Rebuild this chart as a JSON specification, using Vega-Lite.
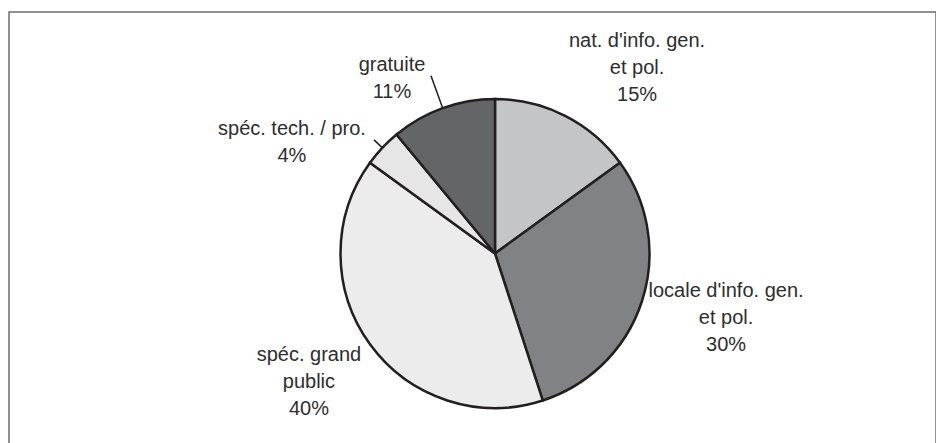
{
  "$schema": "https://vega.github.io/schema/vega-lite/v6.json",
  "width": 927,
  "height": 483,
  "autosize": "none",
  "padding": {"left": 9, "top": 12, "right": 0, "bottom": 0},
  "background": "white",
  "config": {"view": {"stroke": null}},
  "data": {
    "values": [
      {"id": 1, "cat": "nat. d'info. gen. et pol.", "label": "nat. d'info. gen.\net pol.\n15%", "value": 15},
      {"id": 2, "cat": "locale d'info. gen. et pol.", "label": "locale d'info. gen.\net pol.\n30%", "value": 30},
      {"id": 3, "cat": "spéc. grand public", "label": "spéc. grand\npublic\n40%", "value": 40},
      {"id": 4, "cat": "spéc. tech. / pro.", "label": "spéc. tech. / pro.\n4%", "value": 4},
      {"id": 5, "cat": "gratuite", "label": "gratuite\n11%", "value": 11}
    ]
  },
  "layer": [
    {
      "transform": [{"filter": "datum.id == 1"}],
      "mark": {"type": "rect", "fillOpacity": 0, "stroke": "#6d6d6d", "strokeWidth": 1.5},
      "encoding": {}
    },
    {
      "mark": {"type": "arc", "outerRadius": 154.5, "stroke": "#231f20", "strokeWidth": 2.5, "x": {"expr": "width/2+22.5"}},
      "encoding": {
        "theta": {"field": "value", "type": "quantitative", "stack": true},
        "order": {"field": "id", "type": "quantitative"},
        "color": {
          "field": "cat", "type": "nominal", "legend": null,
          "scale": {
            "domain": ["nat. d'info. gen. et pol.", "locale d'info. gen. et pol.", "spéc. grand public", "spéc. tech. / pro.", "gratuite"],
            "range": ["#c4c5c7", "#808285", "#ececec", "#e6e6e6", "#646567"]
          }
        }
      }
    },
    {
      "mark": {"type": "arc", "innerRadius": 154, "outerRadius": 189, "padAngle": 1.2, "fillOpacity": 0, "stroke": "#231f20", "strokeWidth": 1.5, "x": {"expr": "width/2+22.5"}},
      "encoding": {
        "theta": {"field": "value", "type": "quantitative", "stack": true},
        "order": {"field": "id", "type": "quantitative"},
        "strokeOpacity": {"condition": {"test": "datum.id == 5", "value": 1}, "value": 0}
      }
    },
    {
      "mark": {"type": "arc", "innerRadius": 154, "outerRadius": 166, "padAngle": 1.2, "fillOpacity": 0, "stroke": "#231f20", "strokeWidth": 1.5, "x": {"expr": "width/2+22.5"}},
      "encoding": {
        "theta": {"field": "value", "type": "quantitative", "stack": true},
        "order": {"field": "id", "type": "quantitative"},
        "strokeOpacity": {"condition": {"test": "datum.id == 4", "value": 1}, "value": 0}
      }
    },
    {
      "mark": {"type": "text", "radius": 230, "dx": 37.6, "dy": -7.1, "align": "center", "baseline": "middle", "lineBreak": "\n", "lineHeight": 27, "font": "Liberation Sans", "fontSize": 20, "color": "#2e2e2e", "x": {"expr": "width/2+22.5"}},
      "encoding": {
        "theta": {"field": "value", "type": "quantitative", "stack": true},
        "order": {"field": "id", "type": "quantitative"},
        "text": {"condition": {"test": "datum.id == 1", "field": "label"}, "value": ""}
      }
    },
    {
      "mark": {"type": "text", "radius": 230, "dx": 12.3, "dy": -33.1, "align": "center", "baseline": "middle", "lineBreak": "\n", "lineHeight": 27, "font": "Liberation Sans", "fontSize": 20, "color": "#2e2e2e", "x": {"expr": "width/2+22.5"}},
      "encoding": {
        "theta": {"field": "value", "type": "quantitative", "stack": true},
        "order": {"field": "id", "type": "quantitative"},
        "text": {"condition": {"test": "datum.id == 2", "field": "label"}, "value": ""}
      }
    },
    {
      "mark": {"type": "text", "radius": 230, "dx": 0, "dy": -33.7, "align": "center", "baseline": "middle", "lineBreak": "\n", "lineHeight": 27, "font": "Liberation Sans", "fontSize": 20, "color": "#2e2e2e", "x": {"expr": "width/2+22.5"}},
      "encoding": {
        "theta": {"field": "value", "type": "quantitative", "stack": true},
        "order": {"field": "id", "type": "quantitative"},
        "text": {"condition": {"test": "datum.id == 3", "field": "label"}, "value": ""}
      }
    },
    {
      "mark": {"type": "text", "radius": 230, "dx": -35.4, "dy": 33, "align": "center", "baseline": "middle", "lineBreak": "\n", "lineHeight": 27, "font": "Liberation Sans", "fontSize": 20, "color": "#2e2e2e", "x": {"expr": "width/2+22.5"}},
      "encoding": {
        "theta": {"field": "value", "type": "quantitative", "stack": true},
        "order": {"field": "id", "type": "quantitative"},
        "text": {"condition": {"test": "datum.id == 4", "field": "label"}, "value": ""}
      }
    },
    {
      "mark": {"type": "text", "radius": 230, "dx": -25.1, "dy": 27.9, "align": "center", "baseline": "middle", "lineBreak": "\n", "lineHeight": 27, "font": "Liberation Sans", "fontSize": 20, "color": "#2e2e2e", "x": {"expr": "width/2+22.5"}},
      "encoding": {
        "theta": {"field": "value", "type": "quantitative", "stack": true},
        "order": {"field": "id", "type": "quantitative"},
        "text": {"condition": {"test": "datum.id == 5", "field": "label"}, "value": ""}
      }
    }
  ]
}
